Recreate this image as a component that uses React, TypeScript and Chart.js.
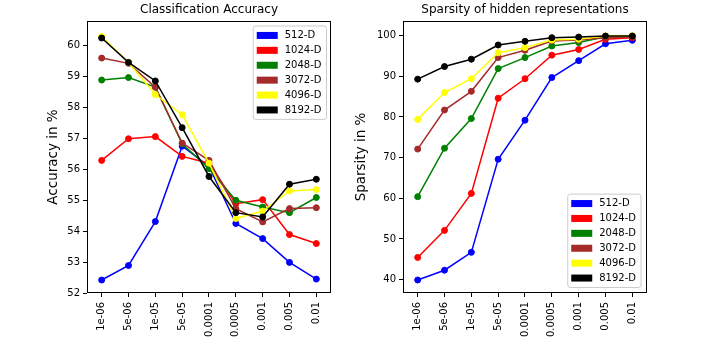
import React, { useEffect, useRef } from "react";
import { Chart, registerables } from "chart.js";

Chart.register(...registerables);
Chart.defaults.font.family = '"DejaVu Sans", sans-serif';

// ---------- data ----------
const lrLabels = ["1e-06", "5e-06", "1e-05", "5e-05", "0.0001", "0.0005", "0.001", "0.005", "0.01"];
const seriesNames = ["512-D", "1024-D", "2048-D", "3072-D", "4096-D", "8192-D"];
const seriesColors = ["#0000ff", "#ff0000", "#008000", "#a52a2a", "#ffff00", "#000000"];

const acc512 = [52.42, 52.89, 54.31, 56.75, 56.1, 54.25, 53.76, 52.99, 52.45];
const acc1024 = [56.29, 56.99, 57.06, 56.42, 56.2, 54.89, 55.02, 53.89, 53.6];
const acc2048 = [58.89, 58.97, 58.66, 56.83, 56.02, 55.0, 54.78, 54.6, 55.09];
const acc3072 = [59.6, 59.43, 58.66, 56.85, 56.29, 54.73, 54.3, 54.73, 54.76];
const acc4096 = [60.3, 59.46, 58.42, 57.77, 56.2, 54.41, 54.65, 55.3, 55.35];
const acc8192 = [60.25, 59.46, 58.86, 57.35, 55.77, 54.6, 54.46, 55.52, 55.68];

const spa512 = [39.9, 42.3, 46.7, 69.6, 79.2, 89.7, 93.85, 98.0, 98.85];
const spa1024 = [45.45, 52.1, 61.2, 84.6, 89.4, 95.2, 96.6, 99.1, 99.5];
const spa2048 = [60.4, 72.3, 79.6, 91.9, 94.6, 97.45, 98.3, 99.75, 99.9];
const spa3072 = [72.1, 81.7, 86.3, 94.6, 96.4, 98.7, 98.9, 99.5, 99.75];
const spa4096 = [79.4, 86.0, 89.4, 95.8, 97.05, 98.9, 99.1, 99.9, 100.0];
const spa8192 = [89.3, 92.4, 94.2, 97.7, 98.6, 99.5, 99.65, 99.9, 99.9];

const accTicks = [52, 53, 54, 55, 56, 57, 58, 59, 60];
const spaTicks = [40, 50, 60, 70, 80, 90, 100];

// ---------- plugin: matplotlib-like frame + in-axes legend ----------
const frameLegendPlugin = {
  id: "frameLegend",
  afterDraw(chart: any, _args: any, opts: any) {
    const { ctx, chartArea: a } = chart;
    ctx.save();
    // frame
    ctx.strokeStyle = "#000";
    ctx.lineWidth = 1;
    const L = Math.round(a.left) + 0.5;
    const T = Math.round(a.top) + 0.5;
    const R = Math.round(a.right) - 0.5;
    const B = Math.round(a.bottom) - 0.5;
    ctx.strokeRect(L, T, R - L, B - T);

    // legend
    ctx.font = '10px "DejaVu Sans", sans-serif';
    const ds = chart.data.datasets;
    const names = ds.map((d: any) => d.label);
    const colors = ds.map((d: any) => d.borderColor);
    const textW = Math.max(...names.map((n: string) => ctx.measureText(n).width));
    const rowH = 14.9;
    const w = 3.5 + 21 + 7 + textW + 5;
    const h = rowH * names.length + 4;
    const x = a.right - opts.insetX - w;
    const y = opts.loc === "top" ? a.top + opts.insetY : a.bottom - opts.insetY - h;
    ctx.beginPath();
    if ((ctx as any).roundRect) (ctx as any).roundRect(x, y, w, h, 2.5);
    else ctx.rect(x, y, w, h);
    ctx.fillStyle = "rgba(255,255,255,0.85)";
    ctx.fill();
    ctx.strokeStyle = "#cccccc";
    ctx.stroke();
    names.forEach((n: string, i: number) => {
      const cy = y + 2 + rowH * (i + 0.5);
      ctx.fillStyle = colors[i];
      ctx.fillRect(x + 3.5, cy - 3.5, 21, 7);
      ctx.fillStyle = "#000";
      ctx.textBaseline = "middle";
      ctx.textAlign = "left";
      ctx.fillText(n, x + 3.5 + 21 + 7, cy);
    });
    ctx.restore();
  },
};

function lineDatasets(seriesValues: number[][]) {
  return seriesValues.map((vals, i) => ({
    label: seriesNames[i],
    data: vals.map((v, j) => ({ x: j, y: v })),
    borderColor: seriesColors[i],
    backgroundColor: seriesColors[i],
    pointBackgroundColor: seriesColors[i],
    pointBorderColor: seriesColors[i],
    borderWidth: 1.5,
    pointRadius: 3,
    pointBorderWidth: 1,
    tension: 0,
    order: seriesValues.length - i,
  }));
}

function buildConfig(p: {
  title: string;
  yTitle: string;
  series: number[][];
  yMin: number;
  yMax: number;
  yTicks: number[];
  yWidth: number;
  yTitlePad: number;
  rightPad: number;
  legendLoc: string;
  insetX: number;
  insetY: number;
}): any {
  const tickGrid = { drawOnChartArea: false, drawTicks: true, tickLength: 4, color: "#000", lineWidth: 1 };
  return {
    type: "line",
    data: { datasets: lineDatasets(p.series) },
    plugins: [frameLegendPlugin],
    options: {
      responsive: false,
      animation: false,
      devicePixelRatio: 1,
      events: [],
      layout: { padding: { left: 0, right: p.rightPad, top: 0, bottom: 0 } },
      plugins: {
        legend: { display: false },
        tooltip: { enabled: false },
        title: {
          display: true,
          text: p.title,
          fullSize: false,
          color: "#000",
          font: { size: 12, weight: "normal" },
          padding: { top: 3, bottom: 3.6 },
        },
        frameLegend: { loc: p.legendLoc, insetX: p.insetX, insetY: p.insetY },
      },
      scales: {
        x: {
          type: "linear",
          min: -0.547,
          max: 8.547,
          afterBuildTicks: (ax: any) => {
            ax.ticks = lrLabels.map((_, i) => ({ value: i }));
          },
          afterFit: (ax: any) => {
            ax.height = 45;
          },
          ticks: {
            callback: (v: any) => lrLabels[v] ?? "",
            minRotation: 90,
            maxRotation: 90,
            autoSkip: false,
            color: "#000",
            font: { size: 10 },
            padding: 5,
          },
          grid: tickGrid,
          border: { display: false },
        },
        y: {
          type: "linear",
          min: p.yMin,
          max: p.yMax,
          afterBuildTicks: (ax: any) => {
            ax.ticks = p.yTicks.map((v) => ({ value: v }));
          },
          afterFit: (ax: any) => {
            ax.width = p.yWidth;
          },
          ticks: { color: "#000", font: { size: 10 }, padding: 3 },
          grid: tickGrid,
          border: { display: false },
          title: {
            display: true,
            text: p.yTitle,
            color: "#000",
            font: { size: 13.5 },
            padding: { top: p.yTitlePad, bottom: 0 },
          },
        },
      },
    },
  };
}

function ChartCanvas({ left, width, height, config }: { left: number; width: number; height: number; config: () => any }) {
  const ref = useRef<HTMLCanvasElement | null>(null);
  useEffect(() => {
    if (!ref.current) return;
    const chart = new Chart(ref.current, config());
    return () => chart.destroy();
  }, []);
  return (
    <canvas
      ref={ref}
      width={width}
      height={height}
      style={{ position: "absolute", left, top: 0, width, height }}
    />
  );
}

export default function App() {
  const accCfg = () =>
    buildConfig({
      title: "Classification Accuracy",
      yTitle: "Accuracy in %",
      series: [acc512, acc1024, acc2048, acc3072, acc4096, acc8192],
      yMin: 52,
      yMax: 60.8,
      yTicks: accTicks,
      yWidth: 87,
      yTitlePad: 45.2,
      rightPad: 21,
      legendLoc: "top",
      insetX: 4.5,
      insetY: 5,
    });
  const spaCfg = () =>
    buildConfig({
      title: "Sparsity of hidden representations",
      yTitle: "Sparsity in %",
      series: [spa512, spa1024, spa2048, spa3072, spa4096, spa8192],
      yMin: 36.7,
      yMax: 103.6,
      yTicks: spaTicks,
      yWidth: 51,
      yTitlePad: 1.6,
      rightPad: 58,
      legendLoc: "bottom",
      insetX: 6,
      insetY: 5.5,
    });
  return (
    <div style={{ position: "absolute", left: 0, top: 0, width: 705, height: 338, background: "#fff", overflow: "hidden" }}>
      <ChartCanvas left={0} width={352} height={338} config={accCfg} />
      <ChartCanvas left={352} width={353} height={338} config={spaCfg} />
    </div>
  );
}
